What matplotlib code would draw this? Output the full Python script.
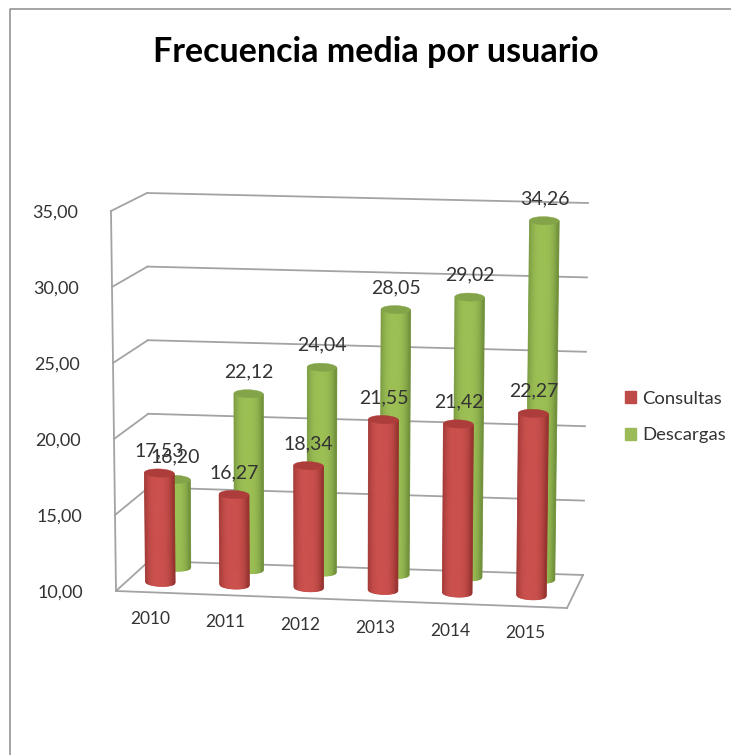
import numpy as np
import matplotlib
matplotlib.use("Agg")
import matplotlib.pyplot as plt
from matplotlib.patches import Patch
from matplotlib.transforms import Transform
from matplotlib.colors import to_rgb

years = ["2010", "2011", "2012", "2013", "2014", "2015"]
consultas = [17.53, 16.27, 18.34, 21.55, 21.42, 22.27]
descargas = [16.20, 22.12, 24.04, 28.05, 29.02, 34.26]
value_ticks = [10, 15, 20, 25, 30, 35]
title = "Frecuencia media por usuario"

W, H = 731, 755
plt.rcParams["font.family"] = ["Lato", "DejaVu Sans"]
TXT = "#333333"
GRID = "#a3a3a3"

# Corners of the chart box in image pixels: (category side, depth, value)
FL0, FR0, BL0, BR0 = (116, 591), (567, 608), (149, 561), (583, 575)
FL1, FR1, BL1, BR1 = (111, 211), (572, 224), (147, 193), (588, 203)
CORNERS = np.array([[FL0, FR0, BL0, BR0], [FL1, FR1, BL1, BR1]], float)


def project(c, d, v):
    c, d, v = np.broadcast_arrays(np.asarray(c, float) / 6, d, (np.asarray(v, float) - 10) / 25)
    out = 0
    for iv, wv in enumerate((1 - v, v)):
        for ic, wc in enumerate((1 - c, c)):
            for id_, wd in enumerate((1 - d, d)):
                out = out + (wv * wc * wd)[..., None] * CORNERS[iv, id_ * 2 + ic]
    out[..., 1] = H - out[..., 1]
    return out


class Wall(Transform):
    """(category, value) at a fixed depth -> display pixels."""
    input_dims = output_dims = 2

    def __init__(self, plane_depth):
        super().__init__()
        self.plane_depth = plane_depth

    def transform_non_affine(self, xy):
        xy = np.asarray(xy, float)
        return project(xy[:, 0], self.plane_depth, xy[:, 1])


class Side(Transform):
    """(depth, value) at a fixed category position -> display pixels."""
    input_dims = output_dims = 2

    def __init__(self, c):
        super().__init__()
        self.c = c

    def transform_non_affine(self, xy):
        xy = np.asarray(xy, float)
        return project(self.c, xy[:, 0], xy[:, 1])


fig = plt.figure(figsize=(W / 100, H / 100), dpi=100)
ax = fig.add_axes([0, 0, 1, 1])
ax.set_xlim(0, 6)
ax.set_ylim(10, 35)
ax.axis("off")

# frame (top and left edges of the cropped chart area)
fig.add_artist(plt.Line2D([9.5 / W, 9.5 / W, 1], [0, 1 - 8.5 / H, 1 - 8.5 / H], color="#8c8c8c", lw=1.1))

back, left, right, front = Wall(1), Side(0), Side(6), Wall(0)
for v in value_ticks:
    ax.plot([0, 6], [v, v], transform=back, color=GRID, lw=1.3, zorder=1)
    ax.plot([0, 1], [v, v], transform=left, color=GRID, lw=1.3, zorder=1)
    ax.annotate(f"{v},00", xy=(0, v), xycoords=front, xytext=(-33, -1.5),
                textcoords="offset pixels", ha="right", va="center", fontsize=13, color=TXT)
ax.plot([0, 0], [10, 35], transform=front, color=GRID, lw=1.3, zorder=1)
ax.plot([0, 6], [10, 10], transform=front, color=GRID, lw=1.3, zorder=1)
ax.plot([0, 1], [10, 10], transform=right, color=GRID, lw=1.3, zorder=1)

BAR_OFFSET = 0.45
RADIUS = 0.2
CAP = 0.27


def cylinder(i, val, depth, dark, light, cap, z):
    tr = Wall(depth)
    c0 = i + BAR_OFFSET
    dark, light = np.array(to_rgb(dark)), np.array(to_rgb(light))
    n = 30
    edges = np.linspace(-1, 1, n + 1)
    for a, b in zip(edges[:-1], edges[1:]):
        u = (a + b) / 2
        t = np.clip(1 - abs(u + 0.05) ** 3, 0, 1)
        col = dark + (light - dark) * t
        xs = c0 + RADIUS * np.array([a, b, b, a])
        low_a = 10 - CAP * np.sqrt(max(1 - a * a, 0))
        low_b = 10 - CAP * np.sqrt(max(1 - b * b, 0))
        ys = [low_a, low_b, val - CAP, val - CAP]
        ax.fill(xs, ys, transform=tr, color=col, lw=0.6, zorder=z)
    t = np.linspace(0, 2 * np.pi, 60)
    ax.fill(c0 + RADIUS * np.cos(t), val - CAP + CAP * np.sin(t), transform=tr,
            color=cap, lw=0.3, zorder=z + 0.1)
    ax.annotate(f"{val:.2f}".replace(".", ","), xy=(c0, val), xycoords=tr, xytext=(0, 18),
                textcoords="offset pixels", ha="center", va="center", fontsize=14, color=TXT, zorder=10)


RED = dict(dark="#973330", light="#cb504d", cap="#ad3d3a")
GREEN = dict(dark="#71913c", light="#9cbf54", cap="#84a449")
for i, val in enumerate(descargas):
    cylinder(i, val, 0.83, z=3, **GREEN)
for i, val in enumerate(consultas):
    cylinder(i, val, 0.33, z=5, **RED)

for i, y in enumerate(years):
    ax.annotate(y, xy=(i + BAR_OFFSET, 10), xycoords=front, xytext=(0, -27),
                textcoords="offset pixels", ha="center", va="center", fontsize=12.5, color=TXT)

fig.text(375.5 / W, 1 - 52 / H, title, ha="center", va="center", fontsize=24.5,
         fontweight="bold", color="black")

handles = [Patch(color="#bf4b48", label="Consultas"), Patch(color="#9bbb59", label="Descargas")]
ax.legend(handles=handles, loc="center left", bbox_to_anchor=(625 / W, 1 - 417 / H),
          bbox_transform=fig.transFigure, frameon=False, fontsize=13.3, labelcolor=TXT,
          handlelength=0.62, handleheight=0.62, handletextpad=0.3, labelspacing=1.13,
          borderpad=0, borderaxespad=0)

fig.savefig("out.png", dpi=100, facecolor="white")
